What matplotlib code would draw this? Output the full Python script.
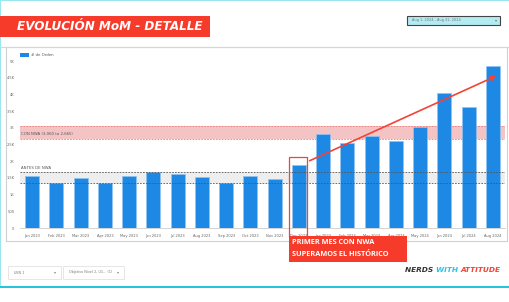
import matplotlib

matplotlib.use("Agg")
import matplotlib.pyplot as plt
from matplotlib.patches import Rectangle

# datos (# de Orden por mes)
meses = ["Jan 2023", "Feb 2023", "Mar 2023", "Apr 2023", "May 2023", "Jun 2023",
         "Jul 2023", "Aug 2023", "Sep 2023", "Oct 2023", "Nov 2023", "Dec 2023",
         "Jan 2024", "Feb 2024", "Mar 2024", "Apr 2024", "May 2024", "Jun 2024",
         "Jul 2024", "Aug 2024"]
ordenes = [1570, 1340, 1490, 1340, 1550, 1670, 1620, 1540, 1340, 1560, 1460, 1885,
           2820, 2560, 2760, 2610, 3020, 4040, 3630, 4840]
y_ticks = [0, 500, 1000, 1500, 2000, 2500, 3000, 3500, 4000, 4500, 5000]
y_labels = ["0", "500", "1K", "1.5K", "2K", "2.5K", "3K", "3.5K", "4K", "4.5K", "5K"]
banda_con = (2665, 3060)
banda_antes = (1350, 1680)

W, H = 509, 302
BLUE = "#1e88e5"
RED = "#f44336"
CYAN = "#26c6da"

fig = plt.figure(figsize=(W / 100, H / 100), dpi=100)
fig.patch.set_facecolor("white")


def px_axes(x0, y0, x1, y1, z):
    # axes positioned by pixel box (top-left origin)
    return fig.add_axes([x0 / W, 1 - y1 / H, (x1 - x0) / W, (y1 - y0) / H], zorder=z)


def px_width(t):
    fig.canvas.draw()
    return t.get_window_extent().width * W / fig.bbox.width


def fit_text(t, target):
    # ajusta el tamaño de letra para que el texto ocupe 'target' px
    t.set_fontsize(t.get_fontsize() * target / px_width(t))


# fondo: marcos, panel, titulo
bg = px_axes(0, 0, W, H, 0)
bg.set_xlim(0, W)
bg.set_ylim(H, 0)
bg.axis("off")
bg.add_patch(Rectangle((0, 0), W, 1.2, color="#9ae6f0", lw=0))
bg.add_patch(Rectangle((0, 0), 1.5, 288, color="#9ae6f0", lw=0))
bg.add_patch(Rectangle((0, 285.5), W, 2.5, color=CYAN, lw=0))
bg.plot([0, W], [46.5, 46.5], color="#d6d6d6", lw=0.8)
bg.add_patch(Rectangle((6, 47), 501, 194, facecolor="white", edgecolor="#d0d0d0", lw=0.8))
bg.add_patch(Rectangle((0, 16), 210, 21, color="#f63b2b", lw=0))
tt = bg.text(17, 26.5, "EVOLUCIÓN MoM - DETALLE", color="white", fontsize=9,
             fontweight="bold", fontstyle="italic", va="center", ha="left", family="DejaVu Sans")
fit_text(tt, 185)

# selector de fecha
bg.add_patch(Rectangle((407, 16), 93, 9, facecolor="#b2ebf2", edgecolor="#444444", lw=0.8))
bg.text(412, 20.5, "Aug 1, 2024 - Aug 31, 2024", fontsize=2.5, color="#777777", va="center")
bg.text(496, 20.5, "▾", fontsize=3, color="#777777", va="center", ha="center")

# filtros inferiores
for (x0, x1, txt) in [(8, 61, "UEN 1"), (63, 124, "Objetivo Nivel 2, U1... (1)")]:
    bg.add_patch(Rectangle((x0, 266), x1 - x0, 13, facecolor="white", edgecolor="#e2e2e2", lw=0.6))
    bg.text(x0 + 6, 272.5, txt, fontsize=2.4, color="#777777", va="center")
    bg.text(x1 - 6, 272.5, "▾", fontsize=3, color="#888888", va="center", ha="center")

# logo
palabras = [("NERDS ", "#333333"), ("WITH ", "#29c5e6"), ("ATTITUDE", "#f44336")]
probe = bg.text(0, 0, "".join(p for p, _ in palabras), fontsize=8, fontweight="bold",
                fontstyle="italic", family="DejaVu Sans")
logo_fs = 8 * 96 / px_width(probe)
probe.remove()
lx = 405
for word, col in palabras:
    t = bg.text(lx, 270, word, fontsize=logo_fs, color=col, fontweight="bold", fontstyle="italic",
                va="center", ha="left", family="DejaVu Sans")
    lx += px_width(t)

# grafico principal
ax = px_axes(20, 50, 505, 228, 1)
ax.patch.set_alpha(0)
x = list(range(len(meses)))
ax.bar(x, ordenes, width=0.58, color=BLUE, edgecolor="#90c4f2", lw=0.5, zorder=3)
ax.set_xlim(-0.5, len(meses) - 0.5)
ax.set_ylim(0, 5330)
ax.set_yticks(y_ticks)
ax.set_yticklabels(y_labels, fontsize=2.6, color="#666666")
ax.set_xticks(x)
ax.set_xticklabels(meses, fontsize=2.6, color="#666666")
ax.tick_params(length=0, pad=4)
for s in ["top", "right", "left"]:
    ax.spines[s].set_visible(False)
ax.spines["bottom"].set_color("#cccccc")
ax.spines["bottom"].set_linewidth(0.6)

# bandas de referencia
ax.axhspan(*banda_con, color="#f4c4c4", lw=0, zorder=1)
for v in banda_con:
    ax.axhline(v, color="#ee7a7a", lw=0.6, ls=(0, (2, 1.5)), zorder=2)
ax.text(-0.45, banda_con[0] + 90, "CON NWA (3,060 to 2,665)", fontsize=2.8,
        color="#555555", va="bottom", zorder=4)
ax.axhspan(*banda_antes, color="#eeeeee", lw=0, zorder=1)
for v in banda_antes:
    ax.axhline(v, color="#555555", lw=0.6, ls=(0, (2, 1.5)), zorder=4)
ax.text(-0.45, banda_antes[1] + 60, "ANTES DE NWA", fontsize=2.8, color="#555555",
        va="bottom", zorder=4)

# leyenda
bg.add_patch(Rectangle((20, 53), 9, 4, color=BLUE, lw=0, zorder=5))
bg.text(31, 55, "# de Orden", fontsize=2.8, color="#555555", va="center")

# recuadro Dec 2023 y flecha
ax.add_patch(Rectangle((10.6, -260), 0.74, 2390, fill=False, edgecolor=RED, lw=0.9,
                       clip_on=False, zorder=6))
ax.annotate("", xy=(19.25, 4590), xytext=(11.34, 1980),
            arrowprops=dict(arrowstyle="-|>", color=RED, lw=1.2, mutation_scale=8),
            annotation_clip=False, zorder=6)

# callout
ov = px_axes(0, 0, W, H, 3)
ov.set_xlim(0, W)
ov.set_ylim(H, 0)
ov.axis("off")
ov.add_patch(Rectangle((289, 236), 118, 25.5, color="#f63b2b", lw=0))
ov.text(292, 243, "PRIMER MES CON NWA", color="white", fontsize=5.3, fontweight="bold",
        va="center", family="Open Sans")
ov.text(292, 255, "SUPERAMOS EL HISTÓRICO", color="white", fontsize=5.3, fontweight="bold",
        va="center", family="Open Sans")

fig.savefig("out.png", dpi=100)
